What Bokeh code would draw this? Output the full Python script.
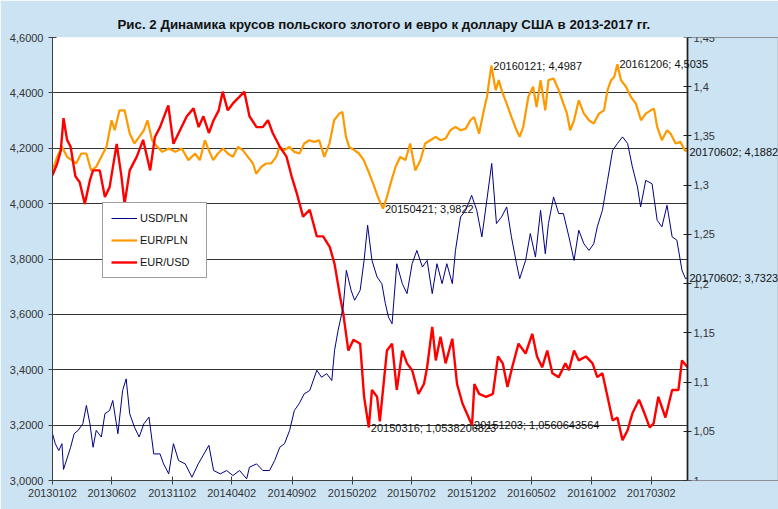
import pandas as pd
from bokeh.plotting import figure
from bokeh.models import (LinearAxis, Range1d, FixedTicker, CustomJSTickFormatter, BoxAnnotation,
                          DatetimeTickFormatter, Legend, LegendItem, Label, ColumnDataSource)
from bokeh.embed import file_html
from bokeh.resources import INLINE

# ---------------- data ----------------
usdpln_dates = ["20130102","20130109","20130118","20130126","20130130","20130217","20130226","20130308","20130320","20130329",
                "20130407","20130415","20130423","20130506","20130515","20130527","20130604","20130617","20130629","20130708",
                "20130717","20130729","20130810","20130822","20130904","20130916","20131002","20131011","20131024","20131105",
                "20131118","20131205","20131222","20140107","20140203","20140215","20140304","20140320","20140405","20140422",
                "20140510","20140517","20140604","20140620","20140707","20140720","20140802","20140814","20140827","20140908",
                "20140920","20141003","20141017","20141104","20141116","20141129","20141212","20141219","20141228","20150110",
                "20150118","20150130","20150208","20150222","20150304","20150313","20150324","20150406","20150418","20150427",
                "20150505","20150514","20150526","20150609","20150621","20150704","20150716","20150730","20150811","20150824",
                "20150905","20150918","20150930","20151014","20151022","20151104","20151117","20151202","20151215","20151228",
                "20160109","20160122","20160203","20160216","20160229","20160312","20160325","20160402","20160417","20160429",
                "20160512","20160525","20160606","20160614","20160627","20160710","20160722","20160805","20160818","20160830",
                "20160912","20160925","20161007","20161016","20161029","20161111","20161124","20161206","20161219","20170101",
                "20170113","20170126","20170203","20170216","20170304","20170317","20170329","20170411","20170424","20170506",
                "20170519","20170528","20170602"]
usdpln_vals = [3.169,3.133,3.108,3.133,3.040,3.120,3.169,3.181,3.205,3.271,
               3.205,3.120,3.181,3.157,3.241,3.253,3.289,3.169,3.325,3.367,
               3.241,3.193,3.157,3.205,3.229,3.096,3.096,3.060,3.024,3.133,
               3.072,3.060,3.012,3.060,3.127,3.036,3.024,3.036,3.018,3.036,
               3.006,3.048,3.060,3.036,3.036,3.072,3.120,3.133,3.181,3.253,
               3.277,3.313,3.325,3.398,3.373,3.386,3.361,3.470,3.542,3.627,
               3.759,3.687,3.651,3.687,3.795,3.922,3.795,3.735,3.711,3.639,
               3.590,3.566,3.783,3.711,3.675,3.783,3.831,3.771,3.795,3.675,
               3.783,3.711,3.783,3.711,3.831,3.952,3.976,4.030,3.976,3.880,
               4.006,4.145,3.928,3.952,3.988,3.880,3.783,3.729,3.795,3.892,
               3.807,3.976,3.819,3.928,4.024,3.964,3.964,3.880,3.795,3.904,
               3.855,3.831,3.855,3.916,3.976,4.084,4.193,4.217,4.241,4.217,
               4.133,4.060,3.988,4.084,4.072,3.940,3.916,3.994,3.880,3.868,
               3.759,3.729,3.7323]

eurpln_dates = ["20130102","20130114","20130126","20130208","20130220","20130303","20130316","20130329","20130410","20130423",
                "20130506","20130519","20130601","20130609","20130621","20130704","20130717","20130729","20130810","20130822",
                "20130831","20130912","20130925","20131008","20131024","20131110","20131126","20131213","20131230","20140111",
                "20140124","20140201","20140214","20140226","20140311","20140323","20140405","20140418","20140430","20140513",
                "20140526","20140603","20140616","20140628","20140711","20140724","20140801","20140814","20140826","20140908",
                "20140921","20141003","20141016","20141029","20141110","20141123","20141206","20141218","20141231","20150108",
                "20150117","20150125","20150207","20150219","20150303","20150314","20150327","20150408","20150421","20150501",
                "20150510","20150523","20150604","20150617","20150629","20150712","20150725","20150806","20150819","20150902",
                "20150914","20150927","20151009","20151022","20151104","20151117","20151129","20151208","20151221","20160102",
                "20160110","20160121","20160201","20160209","20160216","20160229","20160312","20160325","20160402","20160411",
                "20160424","20160506","20160515","20160525","20160606","20160614","20160627","20160710","20160722","20160731",
                "20160808","20160818","20160830","20160912","20160925","20161007","20161020","20161102","20161111","20161120",
                "20161128","20161206","20161215","20161228","20170109","20170122","20170204","20170216","20170301","20170309",
                "20170317","20170329","20170411","20170420","20170503","20170515","20170526","20170602"]
eurpln_vals = [4.120,4.169,4.205,4.169,4.157,4.145,4.181,4.181,4.120,4.133,
               4.169,4.205,4.301,4.265,4.337,4.337,4.253,4.217,4.241,4.265,
               4.301,4.229,4.205,4.187,4.199,4.187,4.199,4.157,4.181,4.157,
               4.229,4.199,4.157,4.181,4.199,4.181,4.169,4.205,4.193,4.169,
               4.145,4.108,4.133,4.145,4.145,4.169,4.205,4.193,4.205,4.187,
               4.181,4.217,4.229,4.223,4.229,4.169,4.217,4.301,4.325,4.331,
               4.241,4.205,4.193,4.181,4.157,4.120,4.072,4.024,3.9822,4.024,
               4.072,4.133,4.169,4.157,4.217,4.120,4.157,4.217,4.229,4.241,
               4.229,4.235,4.265,4.277,4.265,4.271,4.301,4.313,4.253,4.337,
               4.386,4.4987,4.410,4.446,4.410,4.361,4.313,4.265,4.241,4.277,
               4.386,4.422,4.349,4.446,4.337,4.446,4.452,4.410,4.361,4.325,
               4.265,4.301,4.373,4.325,4.301,4.289,4.325,4.337,4.410,4.446,
               4.458,4.5035,4.446,4.422,4.386,4.361,4.301,4.325,4.337,4.343,
               4.277,4.229,4.265,4.253,4.217,4.223,4.193,4.1882]

eurusd_dates = ["20130102","20130114","20130123","20130130","20130208","20130217","20130301","20130312","20130325","20130407",
                "20130415","20130502","20130515","20130527","20130614","20130626","20130704","20130717","20130804","20130820",
                "20130907","20130919","20131002","20131023","20131105","20131122","20131209","20131226","20140108","20140120",
                "20140203","20140215","20140228","20140310","20140323","20140405","20140422","20140504","20140517","20140604",
                "20140620","20140703","20140715","20140802","20140819","20140901","20140914","20140930","20141017","20141104",
                "20141120","20141207","20141219","20150102","20150110","20150123","20150205","20150222","20150304","20150316",
                "20150324","20150406","20150413","20150501","20150514","20150526","20150609","20150621","20150704","20150720",
                "20150803","20150811","20150824","20150902","20150914","20150927","20151014","20151026","20151109","20151203",
                "20151209","20151221","20160108","20160125","20160207","20160219","20160302","20160314","20160330","20160417",
                "20160504","20160516","20160529","20160611","20160624","20160710","20160727","20160805","20160818","20160830",
                "20160917","20161004","20161016","20161029","20161111","20161124","20161206","20161219","20170101","20170113",
                "20170130","20170213","20170226","20170308","20170320","20170407","20170424","20170510","20170519","20170602"]
eurusd_vals = [1.310,1.322,1.335,1.368,1.346,1.339,1.309,1.303,1.281,1.305,
               1.315,1.315,1.288,1.298,1.342,1.309,1.281,1.315,1.329,1.346,
               1.315,1.349,1.359,1.381,1.342,1.356,1.370,1.378,1.359,1.370,
               1.353,1.366,1.376,1.395,1.376,1.383,1.390,1.395,1.370,1.359,
               1.359,1.366,1.353,1.339,1.329,1.309,1.292,1.268,1.275,1.248,
               1.248,1.237,1.220,1.187,1.170,1.132,1.143,1.139,1.085,1.0538206823,
               1.092,1.085,1.060,1.132,1.139,1.092,1.132,1.119,1.112,1.088,
               1.098,1.115,1.156,1.122,1.146,1.119,1.144,1.098,1.078,1.0560643564,
               1.098,1.088,1.085,1.088,1.126,1.119,1.095,1.115,1.139,1.129,
               1.149,1.126,1.115,1.132,1.109,1.105,1.119,1.112,1.132,1.122,
               1.126,1.119,1.105,1.109,1.085,1.061,1.064,1.041,1.051,1.068,
               1.082,1.068,1.054,1.058,1.085,1.064,1.092,1.092,1.122,1.115]

left_ticks = [3.0, 3.2, 3.4, 3.6, 3.8, 4.0, 4.2, 4.4, 4.6]
right_ticks = [1.0, 1.05, 1.1, 1.15, 1.2, 1.25, 1.3, 1.35, 1.4, 1.45]
x_tick_labels = ["20130102","20130602","20131102","20140402","20140902","20150202",
                 "20150702","20151202","20160502","20161002","20170302"]
x_first, x_last = "20130102", "20170602"

# annotated points: (series, date)
ann_series = ["EUR/PLN", "EUR/PLN", "EUR/PLN", "EUR/PLN", "USD/PLN", "EUR/USD", "EUR/USD"]
ann_dates = ["20150421", "20160121", "20161206", "20170602", "20170602", "20150316", "20151203"]
ann_texts = ["3,9822", "4,4987", "4,5035", "4,1882", "3,7323", "1,0538206823", "1,0560643564"]

title_text = "Рис. 2 Динамика крусов польского злотого и евро к доллару США в 2013-2017 гг."

# ---------------- figure ----------------
def to_ms(s):
    return pd.to_datetime(s, format="%Y%m%d").value / 1e6

BG = "#CCE3F3"
FONT = "Liberation Sans"
AX = "#404040"

W, H = 778, 509
LEFT, TOP, BOTTOM = 52, 37, 29
PLOT_W = 635            # width of the white plot area (pixels)
FRAME_W = W - LEFT      # frame runs to the right edge so the point labels can overflow the plot area

t0, t1 = to_ms(x_first), to_ms(x_last)
x_end = t0 + (t1 - t0) * FRAME_W / PLOT_W

p = figure(width=W, height=H, x_axis_type="datetime",
           x_range=Range1d(t0, x_end), y_range=Range1d(3.0, 4.6),
           output_backend="svg", toolbar_location=None,
           min_border_left=LEFT, min_border_right=0, min_border_top=TOP, min_border_bottom=BOTTOM)
p.extra_y_ranges = {"right": Range1d(1.0, 1.45)}
p.background_fill_color = "white"
p.border_fill_color = BG
p.outline_line_color = None

p.title.text = title_text
p.title.text_font = FONT
p.title.text_font_style = "bold"
p.title.text_font_size = "13.3px"
p.title.text_color = "#111111"
p.title.align = "left"
p.title.offset = 65
p.title.standoff = 11

# x axis
xa = p.xaxis[0]
xa.ticker = FixedTicker(ticks=[to_ms(s) for s in x_tick_labels])
xa.bounds = (t0, t1)
fmt = "%Y%m%d"
xa.formatter = DatetimeTickFormatter(milliseconds=fmt, seconds=fmt, minsec=fmt, minutes=fmt,
                                     hourmin=fmt, hours=fmt, days=fmt, months=fmt, years=fmt)
# y axis left
ya = p.yaxis[0]
ya.ticker = FixedTicker(ticks=left_ticks)
ya.formatter = CustomJSTickFormatter(code="return tick.toFixed(4).replace('.', ',');")
# right axis, drawn at the last date
ra = LinearAxis(y_range_name="right", ticker=FixedTicker(ticks=right_ticks), fixed_location=t1,
                formatter=CustomJSTickFormatter(
                    code="var s = (Math.round(tick*100)/100).toString(); return s.replace('.', ',');"))
p.add_layout(ra, "right")

for ax in (xa, ya, ra):
    ax.axis_line_color = AX
    ax.major_tick_line_color = AX
    ax.major_tick_in = 4
    ax.major_tick_out = 4
    ax.minor_tick_line_color = None
    ax.major_label_text_font = FONT
    ax.major_label_text_font_size = "11px"
    ax.major_label_text_color = "#333333"
ra.axis_line_color = "#202020"
ra.axis_line_width = 1.6
ra.major_tick_line_color = "#202020"
ra.major_tick_line_width = 1.2
ya.major_label_standoff = 5
ra.major_label_standoff = 2
xa.major_label_standoff = 4

p.xgrid.grid_line_color = None
p.ygrid.grid_line_color = "#333333"
p.ygrid.grid_line_width = 1
p.ygrid.ticker = FixedTicker(ticks=left_ticks[1:])

# area right of the last date is page background; its left edge is the plot's right border
p.add_layout(BoxAnnotation(left=t1, fill_color=BG, fill_alpha=1,
                           line_color="#303030", line_width=1.2, line_alpha=1, level="underlay"))

src_pln = ColumnDataSource(dict(x=[to_ms(s) for s in eurpln_dates], y=eurpln_vals))
src_usdpln = ColumnDataSource(dict(x=[to_ms(s) for s in usdpln_dates], y=usdpln_vals))
src_eurusd = ColumnDataSource(dict(x=[to_ms(s) for s in eurusd_dates], y=eurusd_vals))

r_eurpln = p.line("x", "y", source=src_pln, line_color="#FF9900", line_width=2.2)
r_eurusd = p.line("x", "y", source=src_eurusd, line_color="#FF0000", line_width=2.4, y_range_name="right")
r_usdpln = p.line("x", "y", source=src_usdpln, line_color="#000080", line_width=1)

legend = Legend(items=[LegendItem(label="USD/PLN", renderers=[r_usdpln]),
                       LegendItem(label="EUR/PLN", renderers=[r_eurpln]),
                       LegendItem(label="EUR/USD", renderers=[r_eurusd])],
                location=(50, 202))
legend.border_line_color = AX
legend.border_line_width = 1
legend.background_fill_color = "white"
legend.background_fill_alpha = 1
legend.label_text_font = FONT
legend.label_text_font_size = "11px"
legend.label_text_color = "#111111"
legend.glyph_width = 26
legend.glyph_height = 14
legend.label_height = 14
legend.label_width = 58
legend.label_standoff = 3
legend.spacing = 8
legend.padding = 8
legend.margin = 0
p.add_layout(legend)

# point annotations
series_map = {"USD/PLN": (usdpln_dates, usdpln_vals, "default"),
              "EUR/PLN": (eurpln_dates, eurpln_vals, "default"),
              "EUR/USD": (eurusd_dates, eurusd_vals, "right")}
for s, d, t in zip(ann_series, ann_dates, ann_texts):
    dates, vals, rng = series_map[s]
    v = vals[dates.index(d)]
    kw = dict(x=to_ms(d), y=v, text=f"{d}; {t}", x_offset=2,
              text_font=FONT, text_font_size="11px", text_color="#111111",
              text_baseline="middle", text_align="left")
    if rng == "right":
        kw["y_range_name"] = "right"
    p.add_layout(Label(**kw))

open("out.html", "w").write(file_html(p, INLINE))
